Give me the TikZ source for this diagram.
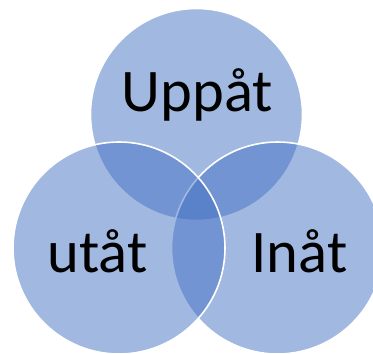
\documentclass[tikz,border=0pt]{standalone}
\usepackage{fontspec}
\setmainfont{Carlito}
\definecolor{vennblue}{HTML}{4472C4}
\begin{document}
\begin{tikzpicture}[x=1pt,y=-1pt,
  venn/.style={circle,minimum size=212pt,inner sep=0pt,fill=vennblue,fill opacity=0.5,draw=white,draw opacity=1,line width=1.6pt},
  lbl/.style={anchor=base,font=\fontsize{60.5}{62}\selectfont,text=black,inner sep=0pt}]
\useasboundingbox[fill=white] (0,0) rectangle (373,354);
\node[venn] (top) at (196.5,114.5) {};
\node[venn] (right) at (277.5,248) {};
\node[venn] (left) at (119,248) {};
\node[lbl] (tUp) at (197.5,111) {Uppåt};
\node[lbl] (tUt) at (97.5,272) {utåt};
\node[lbl] (tIn) at (299.5,272) {Inåt};
\end{tikzpicture}
\end{document}
